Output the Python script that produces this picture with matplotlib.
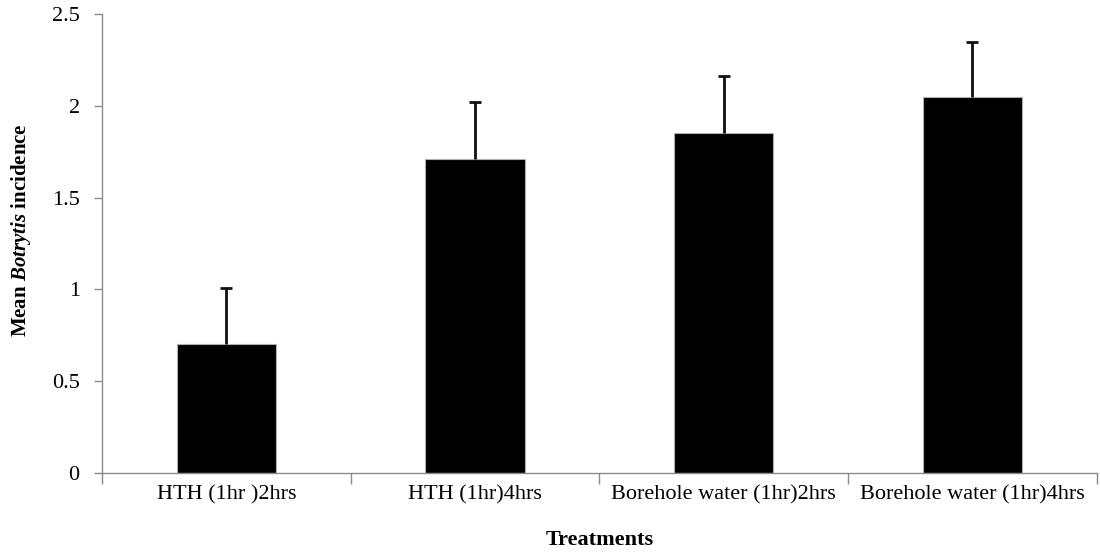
import numpy as np
import matplotlib.pyplot as plt

# Data
treatments = ['HTH (1hr )2hrs', 'HTH (1hr)4hrs',
              'Borehole water (1hr)2hrs', 'Borehole water (1hr)4hrs']
means = [0.70, 1.71, 1.85, 2.05]
errors = [0.31, 0.31, 0.31, 0.30]

plt.rcParams['font.family'] = ['Liberation Serif', 'DejaVu Serif']
plt.rcParams['mathtext.fontset'] = 'custom'
plt.rcParams['mathtext.it'] = 'Liberation Serif:style=italic:weight=bold'
plt.rcParams['mathtext.rm'] = 'Liberation Serif:weight=bold'

fig = plt.figure(figsize=(11, 5.52), dpi=100)
ax = fig.add_axes([0.0927, 0.1431, 0.9043, 0.8315])

x = np.arange(len(treatments))
ax.bar(x, means, width=0.4, color='black', edgecolor='#b0b0b0', linewidth=0.8,
       zorder=2)
eb = ax.errorbar(x, means, yerr=[np.zeros(len(errors)), errors], fmt='none',
                 ecolor='#111111', elinewidth=2, capsize=4, capthick=2,
                 zorder=3)
# only the upper caps are drawn in the original
eb[1][0].set_visible(False)

ax.set_xlim(-0.5, len(treatments) - 0.5)
ax.set_ylim(0, 2.5)
ax.set_yticks([0, 0.5, 1, 1.5, 2, 2.5])
ax.set_yticklabels(['0', '0.5', '1', '1.5', '2', '2.5'])

# category labels centred, ticks at category boundaries
ax.set_xticks(x)
ax.set_xticklabels(treatments)
ax.set_xticks(np.arange(-0.5, len(treatments)), minor=True)
ax.tick_params(axis='x', which='major', length=0, pad=9, labelsize=16)
ax.tick_params(axis='x', which='minor', length=8, color='#8a8a8a', width=1)
ax.tick_params(axis='y', length=6, color='#8a8a8a', width=1, labelsize=16,
               pad=10)

for s in ['top', 'right']:
    ax.spines[s].set_visible(False)
for s in ['left', 'bottom']:
    ax.spines[s].set_color('#8a8a8a')
    ax.spines[s].set_linewidth(1)

ax.set_ylabel(r'Mean $\it{Botrytis}$ incidence', fontsize=15,
              fontweight='bold', va='center')
ax.yaxis.set_label_coords(-0.081, 0.53)
ax.set_xlabel('Treatments', fontsize=16, fontweight='bold', va='center')
ax.xaxis.set_label_coords(0.5, -0.146)

plt.savefig('out.png', dpi=100)
